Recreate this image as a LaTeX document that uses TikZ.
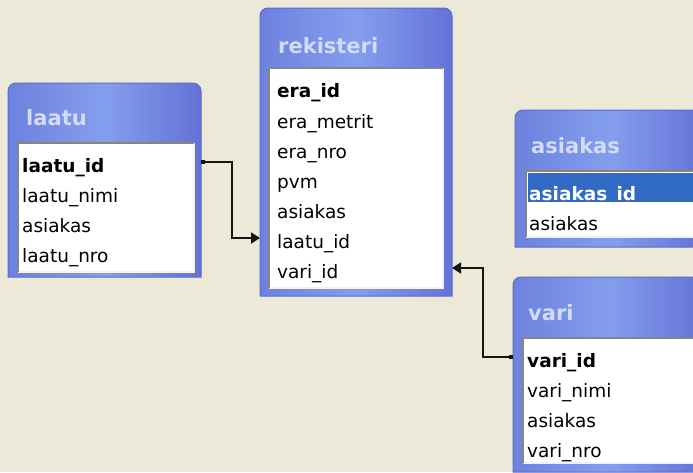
\documentclass[tikz,border=0pt]{standalone}
\usepackage{fontspec}
\setmainfont{DejaVu Sans}
\usetikzlibrary{arrows.meta}
\definecolor{bg}{HTML}{ECE9D8}
\definecolor{frA}{HTML}{6C82DE}
\definecolor{frB}{HTML}{849EEE}
\definecolor{frC}{HTML}{6472D6}
\definecolor{frLine}{HTML}{5A6AD0}
\definecolor{ttl}{HTML}{D2DCF7}
\definecolor{sel}{HTML}{316AC5}
\definecolor{panelDark}{HTML}{858585}
\definecolor{panelLight}{HTML}{F4F2EA}
\newcommand\dbframe[2]{%
  \path[framefill] (#1.south west) -- ([yshift=-8pt]#1.north west)
    arc[start angle=180,end angle=90,radius=8pt]
    -- ([xshift=-8pt+#2]#1.north east)
    arc[start angle=90,end angle=0,radius=8pt]
    -- ([xshift=#2]#1.south east) -- cycle;}
\newcommand\dbpanel[4]{%
  \fill[white] (#1,#2) rectangle (#3,#4);
  \draw[line width=1.5pt, draw=panelLight] (#1,#4) -- (#3,#4) -- (#3,#2);
  \draw[line width=2pt, draw=panelDark] (#1,#4) -- (#1,#2) -- (#3,#2);}
\begin{document}
\begin{tikzpicture}[x=1pt,y=-1pt,
  framebox/.style={inner sep=0pt, outer sep=0pt, anchor=north west},
  framefill/.style={left color=frA, right color=frC, middle color=frB, draw=frLine, line width=1pt},
  title/.style={anchor=base west, inner sep=0pt, font=\fontsize{21}{21}\selectfont\bfseries, text=ttl},
  row/.style={anchor=west, inner sep=0pt, text height=20pt, text depth=0pt, font=\fontsize{18.5}{18.5}\selectfont},
  keyrow/.style={row, font=\fontsize{18.5}{18.5}\selectfont\bfseries},
  conn/.style={line width=1.8pt, draw=black!92}
]
\useasboundingbox (0,0) rectangle (693,472);
\fill[bg] (0,0) rectangle (693,472);
\clip (0,0) rectangle (693,472);

% laatu
\node[framebox, minimum width=193pt, minimum height=194pt] (laatuF) at (8,83) {};
\dbframe{laatuF}{0pt}
\dbpanel{18}{143}{194}{272}
\node[title] (tl) at (26,125) {laatu};
\node[keyrow] (l1) at (22,162) {laatu\_id};
\node[row] (l2) at (22,192) {laatu\_nimi};
\node[row] (l3) at (22,222) {asiakas};
\node[row] (l4) at (22,252) {laatu\_nro};

% rekisteri
\node[framebox, minimum width=192pt, minimum height=288pt] (rekF) at (260,8) {};
\dbframe{rekF}{0pt}
\dbpanel{269}{68}{443}{288}
\node[title] (tr) at (278,53) {rekisteri};
\node[keyrow] (r1) at (277,87) {era\_id};
\node[row] (r2) at (277,118) {era\_metrit};
\node[row] (r3) at (277,148) {era\_nro};
\node[row] (r4) at (277,178) {pvm};
\node[row] (r5) at (277,208) {asiakas};
\node[row] (r6) at (277,238) {laatu\_id};
\node[row] (r7) at (277,268) {vari\_id};

% asiakas
\node[framebox, minimum width=178pt, minimum height=137pt] (asF) at (515,110) {};
\dbframe{asF}{12pt}
\dbpanel{526}{171}{705}{237}
\fill[sel] (528,173) rectangle (705,202);
\node[title] (ta) at (531,153) {asiakas};
\node[keyrow, text=white] (a1) at (529,190) {asiakas\_id};
\node[row] (a2) at (529,220) {asiakas};

% vari
\node[framebox, minimum width=180pt, minimum height=195pt] (variF) at (513,277) {};
\dbframe{variF}{12pt}
\dbpanel{523}{338}{705}{463}
\node[title] (tv) at (528,320) {vari};
\node[keyrow] (v1) at (527,357) {vari\_id};
\node[row] (v2) at (527,387) {vari\_nimi};
\node[row] (v3) at (527,417) {asiakas};
\node[row] (v4) at (527,447) {vari\_nro};

% relations
\draw[conn, {Square[length=4pt,width=4pt]}-{Triangle[length=9pt,width=11pt]}]
  (laatuF.east |- l1.west) -- ++(31,0) |- (rekF.west |- r6.west);
\draw[conn, {Square[length=4pt,width=4pt]}-{Triangle[length=9pt,width=11pt]}]
  (variF.west |- v1.west) -- ++(-30,0) |- (rekF.east |- r7.west);
\end{tikzpicture}
\end{document}
